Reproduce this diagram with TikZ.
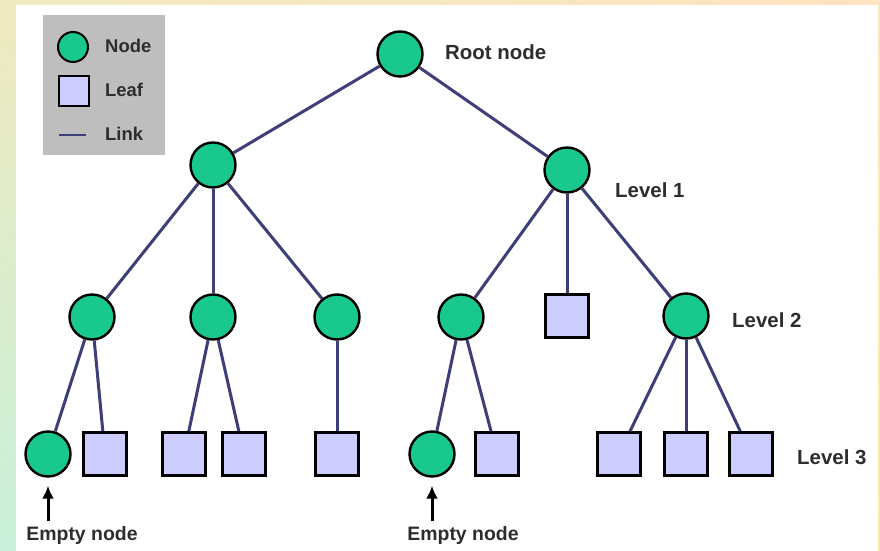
\documentclass[tikz,border=0pt]{standalone}
\usepackage{fontspec}
\setmainfont{Liberation Sans}
\usepackage{tikz}
\usetikzlibrary{calc}
\usetikzlibrary{arrows.meta}
\usetikzlibrary{shadings}

\definecolor{nodegreen}{RGB}{24,200,140}
\definecolor{leafblue}{RGB}{204,204,255}
\definecolor{linkblue}{RGB}{62,62,120}
\definecolor{legendgray}{RGB}{190,190,190}
\definecolor{labelgray}{RGB}{45,45,45}
\definecolor{bgul}{RGB}{240,234,192}
\definecolor{bgur}{RGB}{253,227,191}
\definecolor{bgll}{RGB}{200,240,218}
\definecolor{bglr}{RGB}{251,232,168}

\tikzset{
    treenode/.style={circle, draw=black, line width=2.4bp, fill=nodegreen, minimum size=45bp, inner sep=0pt},
    treeleaf/.style={rectangle, draw=black, line width=2.6bp, fill=leafblue, minimum size=43bp, inner sep=0pt},
    levellabel/.style={anchor=west, text=labelgray, font=\bfseries\fontsize{20.5}{24}\selectfont, inner sep=0pt},
    legendlabel/.style={anchor=west, text=labelgray, font=\bfseries\fontsize{18.5}{21}\selectfont, inner sep=0pt},
    emptylabel/.style={text=labelgray, font=\bfseries\fontsize{19.5}{22}\selectfont, inner sep=0pt}
}

\begin{document}
\begin{tikzpicture}[x=1bp, y=-1bp]
            \useasboundingbox (0,0) rectangle (880,551);
            % background
            \shade[upper left=bgul, upper right=bgur, lower left=bgll, lower right=bglr]
                (0,0) rectangle (880,551);
            \fill[white] (16,5) rectangle (878,551);

            % legend
            \fill[legendgray] (43,15) rectangle (165,155);
            \node[treenode, minimum size=30bp, line width=2bp] (legnode) at (73,47) {};
            \node[treeleaf, minimum size=30bp, line width=2bp] (legleaf) at (74,91) {};
            \coordinate (leglinea) at (59,135);
            \coordinate (leglineb) at (86,135);
            \draw[linkblue, line width=2.6bp] (leglinea) -- (leglineb);
            \node[legendlabel] (legnodetext) at (105,46) {Node};
            \node[legendlabel] (legleaftext) at (105,90) {Leaf};
            \node[legendlabel] (leglinktext) at (105,134) {Link};

            % tree
            \begin{scope}[every node/.style={treenode}]
                \node (root) at (400,54) {};
                \node (1a) at (213,165) {};
                \node (1b) at (567,170) {};
                \node (2a) at (92,317) {};
                \node (2b) at (213,317) {};
                \node (2c) at (337,317) {};
                \node (2d) at (461,317) {};
                \node (2f) at (686,316) {};
                \node (3a) at (48,454) {};
                \node (3f) at (432,454) {};
            \end{scope}

            \begin{scope}[every node/.style={treeleaf}]
                \node (2e) at (567,316) {};
                \node (3b) at (105,454) {};
                \node (3c) at (184,454) {};
                \node (3d) at (244,454) {};
                \node (3e) at (337,454) {};
                \node (3g) at (497,454) {};
                \node (3h) at (619,454) {};
                \node (3i) at (686,454) {};
                \node (3j) at (751,454) {};
            \end{scope}

            \begin{scope}[every edge/.style={draw=linkblue, line width=3bp}]
                \path [-] (root) edge (1a);
                \path [-] (root) edge (1b);
                \path [-] (1a) edge (2a);
                \path [-] (1a) edge (2b);
                \path [-] (1a) edge (2c);
                \path [-] (1b) edge (2d);
                \path [-] (1b) edge (2e);
                \path [-] (1b) edge (2f);
                \path [-] (2a) edge (3a);
                \path [-] (2a) edge (3b);
                \path [-] (2b) edge (3c);
                \path [-] (2b) edge (3d);
                \path [-] (2c) edge (3e);
                \path [-] (2d) edge (3f);
                \path [-] (2d) edge (3g);
                \path [-] (2f) edge (3h);
                \path [-] (2f) edge (3i);
                \path [-] (2f) edge (3j);
            \end{scope}

            % labels
            \node[levellabel] (roottext) at (445,52) {Root node};
            \node[levellabel] (lev1) at (615,190) {Level 1};
            \node[levellabel] (lev2) at (732,320) {Level 2};
            \node[levellabel] (lev3) at (797,457) {Level 3};

            % empty nodes
            \node[emptylabel] (emptya) at (82,535) {Empty node};
            \node[emptylabel] (emptyb) at (463,535) {Empty node};
            \coordinate (arrowa) at (48,521);
            \coordinate (arrowb) at (432,521);
            \draw[-{Latex[length=13bp,width=12bp]}, line width=3bp, shorten >=8bp] (arrowa) -- (3a);
            \draw[-{Latex[length=13bp,width=12bp]}, line width=3bp, shorten >=8bp] (arrowb) -- (3f);
        \end{tikzpicture}
\end{document}
